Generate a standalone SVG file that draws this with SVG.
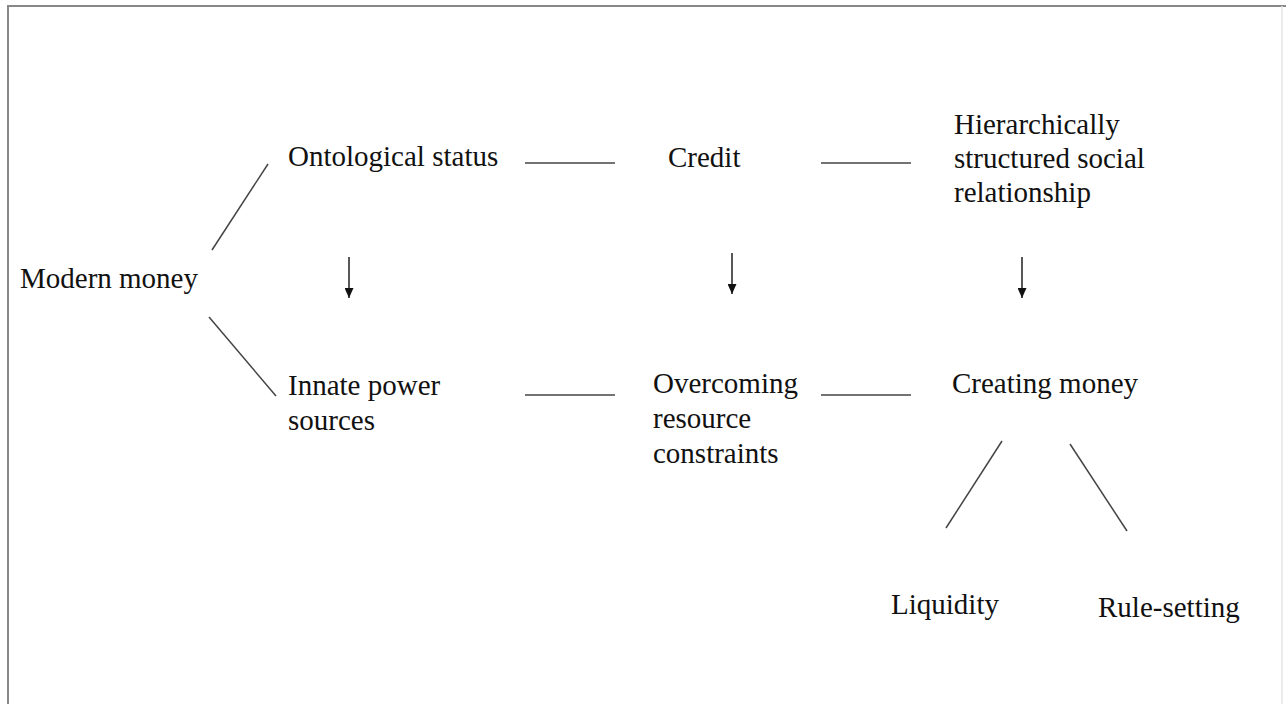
<svg xmlns="http://www.w3.org/2000/svg" width="1286" height="704" viewBox="0 0 1286 704">
<style>
text{font-family:"Liberation Serif","Times New Roman",serif;font-size:29px;fill:#111}
.ln{stroke:#444;stroke-width:1.5;fill:none}
.ar{stroke:#111;stroke-width:1.4;fill:none}
.fr{stroke:#888;stroke-width:2;fill:none}
</style>
<defs>
<marker id="ah" viewBox="0 0 10 10" refX="10" refY="5" markerWidth="10" markerHeight="9" markerUnits="userSpaceOnUse" orient="auto" preserveAspectRatio="none">
<path d="M0,0 L10,5 L0,10 z" fill="#111"/>
</marker>
</defs>
<rect width="1286" height="704" fill="#fff"/>
<g id="frame">
<path class="fr" d="M8,704 V6 H1286"/>
<line x1="1282" y1="6" x2="1282" y2="704" stroke="#e4e4e4" stroke-width="1.5"/>
</g>
<g id="connectors">
<line class="ln" x1="212" y1="250" x2="268" y2="164"/>
<line class="ln" x1="209" y1="317" x2="276" y2="396"/>
<line class="ln" x1="525" y1="163" x2="615" y2="163"/>
<line class="ln" x1="821" y1="163" x2="911" y2="163"/>
<line class="ln" x1="525" y1="395" x2="615" y2="395"/>
<line class="ln" x1="821" y1="395" x2="911" y2="395"/>
<line class="ar" x1="349" y1="257" x2="349" y2="298" marker-end="url(#ah)"/>
<line class="ar" x1="732" y1="253" x2="732" y2="294" marker-end="url(#ah)"/>
<line class="ar" x1="1022" y1="257" x2="1022" y2="298" marker-end="url(#ah)"/>
<line class="ln" x1="1002" y1="441" x2="946" y2="528"/>
<line class="ln" x1="1070" y1="444" x2="1127" y2="531"/>
</g>
<g id="modern-money"><text x="20" y="288">Modern money</text></g>
<g id="ontological-status"><text x="288" y="166">Ontological status</text></g>
<g id="credit"><text x="668" y="167">Credit</text></g>
<g id="hierarchically"><text x="954" y="134">Hierarchically</text><text x="954" y="168">structured social</text><text x="954" y="202">relationship</text></g>
<g id="innate-power"><text x="288" y="395">Innate power</text><text x="288" y="430">sources</text></g>
<g id="overcoming"><text x="653" y="393">Overcoming</text><text x="653" y="428">resource</text><text x="653" y="463">constraints</text></g>
<g id="creating-money"><text x="952" y="393">Creating money</text></g>
<g id="liquidity"><text x="891" y="614">Liquidity</text></g>
<g id="rule-setting"><text x="1098" y="617">Rule-setting</text></g>
</svg>
